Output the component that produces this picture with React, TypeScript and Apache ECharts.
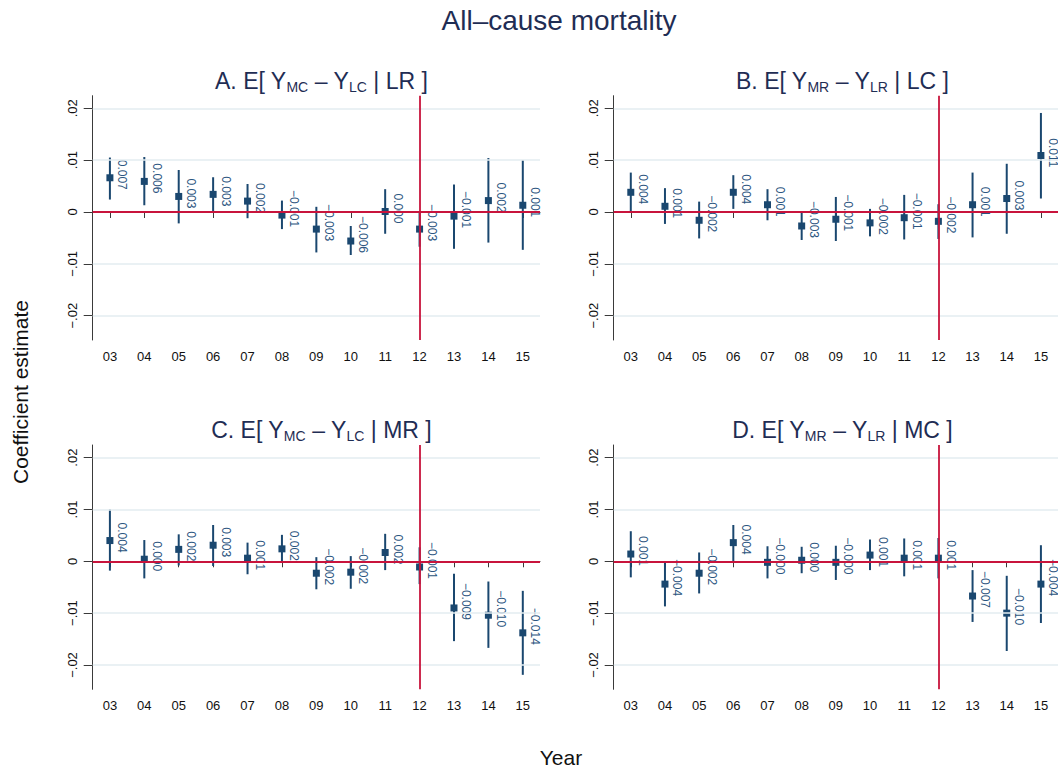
import React, { useEffect, useRef } from "react";
import * as echarts from "echarts";

// Survey years on the horizontal axis
const years = ["03", "04", "05", "06", "07", "08", "09", "10", "11", "12", "13", "14", "15"];
const yTicks = [-0.02, -0.01, 0, 0.01, 0.02];
const cutoffYear = "12";

// Panel A: E[ Y_MC - Y_LC | LR ]
const estA = [0.0066, 0.0059, 0.003, 0.0034, 0.0021, -0.0006, -0.0033, -0.0056, 0.0001, -0.0033, -0.0008, 0.0022, 0.0013];
const loA = [0.0024, 0.0013, -0.0022, 0.0001, -0.0012, -0.0033, -0.0078, -0.0083, -0.0042, -0.0067, -0.0071, -0.0059, -0.0073];
const hiA = [0.0105, 0.0106, 0.0081, 0.0067, 0.0054, 0.0022, 0.001, -0.0027, 0.0044, 0.0001, 0.0053, 0.0104, 0.01];

// Panel B: E[ Y_MR - Y_LR | LC ]
const estB = [0.0038, 0.0011, -0.0016, 0.0038, 0.0014, -0.0027, -0.0014, -0.0021, -0.0011, -0.0018, 0.0014, 0.0026, 0.0109];
const loB = [0.0, -0.0023, -0.0051, 0.0006, -0.0016, -0.0054, -0.0056, -0.0047, -0.0053, -0.0052, -0.0049, -0.0042, 0.0026];
const hiB = [0.0076, 0.0046, 0.002, 0.0071, 0.0044, -0.0001, 0.0029, 0.0006, 0.0033, 0.0015, 0.0076, 0.0093, 0.0191];

// Panel C: E[ Y_MC - Y_LC | MR ]
const estC = [0.004, 0.0004, 0.0023, 0.0031, 0.0006, 0.0024, -0.0023, -0.0021, 0.0017, -0.0011, -0.009, -0.0104, -0.0138];
const loC = [-0.0018, -0.0033, -0.0008, -0.0009, -0.0025, -0.0003, -0.0054, -0.0053, -0.0017, -0.0044, -0.0154, -0.0167, -0.0219];
const hiC = [0.01, 0.0041, 0.0052, 0.007, 0.0036, 0.0051, 0.0008, 0.001, 0.0053, 0.0027, -0.0024, -0.0039, -0.0057];

// Panel D: E[ Y_MR - Y_LR | MC ]
const estD = [0.0014, -0.0044, -0.0023, 0.0036, -0.0002, 0.0002, -0.0002, 0.0012, 0.0006, 0.0006, -0.0067, -0.01, -0.0044];
const loD = [-0.0031, -0.0087, -0.0062, 0.0, -0.0033, -0.0023, -0.0036, -0.0017, -0.0029, -0.0033, -0.0117, -0.0173, -0.0119];
const hiD = [0.0058, 0.0, 0.0017, 0.007, 0.0029, 0.0028, 0.003, 0.0042, 0.0044, 0.0045, -0.0017, -0.0028, 0.0031];

const panelTitles = [
  "{n|A. E[ Y}{s|MC}{n| – Y}{s|LC}{n| | LR ]}",
  "{n|B. E[ Y}{s|MR}{n| – Y}{s|LR}{n| | LC ]}",
  "{n|C. E[ Y}{s|MC}{n| – Y}{s|LC}{n| | MR ]}",
  "{n|D. E[ Y}{s|MR}{n| – Y}{s|LR}{n| | MC ]}",
];

const panels = [
  { est: estA, lo: loA, hi: hiA },
  { est: estB, lo: loB, hi: hiB },
  { est: estC, lo: loC, hi: hiC },
  { est: estD, lo: loD, hi: hiD },
];

const FONT = '"Liberation Sans", Arial, sans-serif';
const NAVY = "#1a476f";
const LABEL = "#2c5580";
const RED = "#c8143c";
const GRID = "#e3edf0";
const INK = "#1f2d54";
const AXIS = "#3a3a3a";

const fmtValue = (v: number) => v.toFixed(3).replace("-", "\u2212");
const fmtTick = (v: number) =>
  v === 0 ? "0" : (v < 0 ? "\u2212" : "") + Math.abs(v).toFixed(2).replace(/^0/, "");

// Plot-area geometry for the 2x2 layout
const PLOT_W = 447.3;
const PLOT_H = 244.3;
const LEFTS = [92.7, 613.7];
const TOPS = [95.7, 445];
const Y_MIN = -0.02469;
const Y_MAX = 0.02243;

export default function App() {
  const ref = useRef<HTMLDivElement>(null);

  useEffect(() => {
    if (!ref.current) return;
    const chart = echarts.init(ref.current, undefined, { renderer: "svg" });

    const grids: any[] = [];
    const xAxes: any[] = [];
    const yAxes: any[] = [];
    const series: any[] = [];
    const titles: any[] = [
      {
        text: "All\u2013cause mortality",
        left: 554,
        top: 1,
        textAlign: "center",
        textStyle: { fontFamily: FONT, fontSize: 28, fontWeight: "normal", color: INK },
      },
    ];

    panels.forEach((p, k) => {
      const col = k % 2;
      const row = Math.floor(k / 2);
      const left = LEFTS[col];
      const top = TOPS[row];
      grids.push({ left, top, width: PLOT_W, height: PLOT_H, containLabel: false });

      titles.push({
        text: panelTitles[k],
        left: left + PLOT_W / 2,
        top: top - 33,
        textAlign: "center",
        textStyle: {
          fontFamily: FONT,
          fontWeight: "normal",
          color: INK,
          rich: {
            n: { fontFamily: FONT, fontWeight: "normal", fontSize: 23, color: INK, lineHeight: 26, verticalAlign: "middle" },
            s: { fontFamily: FONT, fontWeight: "normal", fontSize: 14, color: INK, lineHeight: 14, verticalAlign: "bottom" },
          },
        },
      });

      xAxes.push({
        type: "category",
        gridIndex: k,
        data: years,
        boundaryGap: true,
        axisLine: { show: true, lineStyle: { color: AXIS, width: 1 } },
        axisTick: { show: true, alignWithLabel: true, length: 6, lineStyle: { color: AXIS } },
        axisLabel: { interval: 0, fontFamily: FONT, fontSize: 13, color: "#111", margin: 10 },
        splitLine: { show: false },
      });

      yAxes.push({
        type: "value",
        gridIndex: k,
        min: Y_MIN,
        max: Y_MAX,
        axisLine: { show: true, lineStyle: { color: AXIS, width: 1 } },
        axisTick: { show: true, customValues: yTicks, length: 9, lineStyle: { color: AXIS } },
        axisLabel: {
          customValues: yTicks,
          rotate: 90,
          margin: 14,
          fontFamily: FONT,
          fontSize: 13,
          color: "#111",
          formatter: (v: number) => fmtTick(v),
        },
        splitLine: { show: false },
      });

      // light horizontal gridlines
      series.push({
        type: "line",
        xAxisIndex: k,
        yAxisIndex: k,
        data: [],
        z: 0,
        silent: true,
        markLine: {
          silent: true,
          symbol: ["none", "none"],
          label: { show: false },
          lineStyle: { color: GRID, width: 1.5, type: "solid" },
          data: yTicks.filter((v) => v !== 0).map((v) => ({ yAxis: v })),
        },
      });

      // confidence intervals
      series.push({
        type: "custom",
        xAxisIndex: k,
        yAxisIndex: k,
        z: 1,
        silent: true,
        data: p.est.map((e, i) => [i, e, p.lo[i], p.hi[i]]),
        encode: { x: 0, y: [1, 2, 3] },
        renderItem: (params: any, api: any) => {
          const i = api.value(0);
          const a = api.coord([i, api.value(3)]);
          const b = api.coord([i, api.value(2)]);
          return {
            type: "line",
            shape: { x1: a[0], y1: a[1], x2: b[0], y2: b[1] },
            style: { stroke: NAVY, lineWidth: 2 },
          };
        },
      });

      // zero line and reference year
      series.push({
        type: "line",
        xAxisIndex: k,
        yAxisIndex: k,
        data: [],
        z: 2,
        silent: true,
        markLine: {
          silent: true,
          symbol: ["none", "none"],
          label: { show: false },
          lineStyle: { color: RED, width: 1.8, type: "solid" },
          data: [{ yAxis: 0 }, { xAxis: cutoffYear }],
        },
      });

      // point estimates with value labels
      series.push({
        type: "custom",
        xAxisIndex: k,
        yAxisIndex: k,
        z: 3,
        silent: true,
        clip: false,
        data: p.est.map((e, i) => [i, e]),
        encode: { x: 0, y: 1 },
        renderItem: (params: any, api: any) => {
          const v = api.value(1);
          const c = api.coord([api.value(0), v]);
          return {
            type: "group",
            children: [
              {
                type: "rect",
                shape: { x: c[0] - 3.5, y: c[1] - 3.5, width: 7, height: 7 },
                style: { fill: NAVY },
              },
              {
                type: "text",
                x: c[0] + 12.5,
                y: c[1] + 12,
                rotation: -Math.PI / 2,
                style: {
                  text: fmtValue(v),
                  fill: LABEL,
                  fontFamily: FONT,
                  fontSize: 12,
                  align: "right",
                  verticalAlign: "middle",
                },
              },
            ],
          };
        },
      });
    });

    chart.setOption({
      animation: false,
      backgroundColor: "#ffffff",
      title: titles,
      grid: grids,
      xAxis: xAxes,
      yAxis: yAxes,
      series,
      graphic: [
        {
          type: "text",
          x: 20,
          y: 392,
          rotation: Math.PI / 2,
          style: {
            text: "Coefficient estimate",
            fontFamily: FONT,
            fontSize: 21,
            fill: "#111",
            align: "center",
            verticalAlign: "middle",
          },
        },
        {
          type: "text",
          x: 561,
          y: 757,
          style: {
            text: "Year",
            fontFamily: FONT,
            fontSize: 21,
            fill: "#111",
            align: "center",
            verticalAlign: "middle",
          },
        },
      ],
    });

    return () => chart.dispose();
  }, []);

  return (
    <div
      ref={ref}
      style={{ position: "absolute", left: 0, top: 0, width: 1058, height: 769, background: "#fff" }}
    />
  );
}
